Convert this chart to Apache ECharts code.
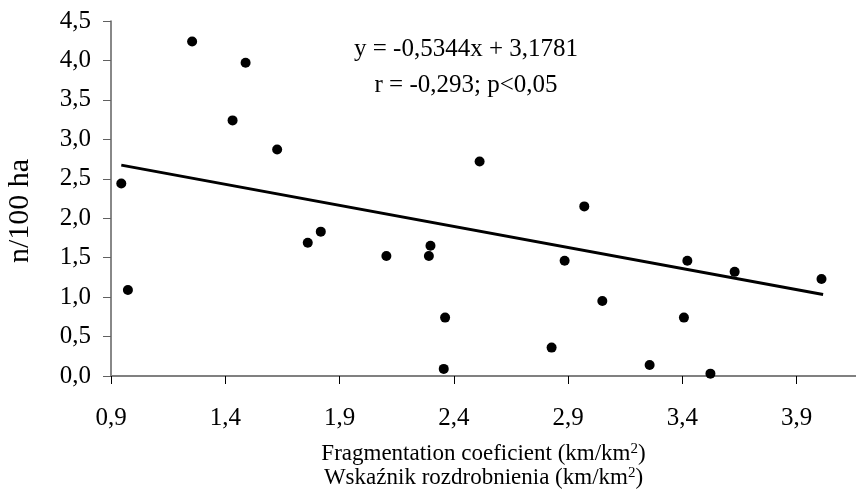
<!DOCTYPE html>
<html>
<head>
<meta charset="utf-8">
<title>Fragmentation vs density</title>
<script src="https://cdn.jsdelivr.net/npm/echarts@6/dist/echarts.min.js"></script>
<style>
  html, body { margin: 0; padding: 0; background: #fff; }
  #chart { width: 856px; height: 495px; }
</style>
</head>
<body>
<div id="chart"></div>
<script>
// values
const xValues = [1.255, 1.489, 1.432, 1.627, 0.945, 0.974, 1.761, 1.818, 2.513, 2.971, 2.105, 2.291,
  2.298, 2.885, 2.362, 2.828, 2.356, 3.422, 3.629, 4.009, 3.050, 3.407, 3.257, 3.523]
const yValues = [4.24, 3.97, 3.24, 2.87, 2.44, 1.09, 1.69, 1.83, 2.72, 2.15, 1.52, 1.52,
  1.65, 1.46, 0.74, 0.36, 0.09, 1.46, 1.32, 1.23, 0.95, 0.74, 0.14, 0.03]
// regression line ends, as drawn
const trendX = [0.945, 4.016]
const trendY = [2.673, 1.032]
const xTicks = [0.9, 1.4, 1.9, 2.4, 2.9, 3.4, 3.9]
const equationLines = ['y = -0,5344x + 3,1781', 'r = -0,293; p<0,05']

const font = '"Liberation Serif", "Times New Roman", serif'
const comma = v => Number(v).toFixed(1).replace('.', ',')

const myChart = echarts.init(document.getElementById('chart'))

const options = {
  backgroundColor: '#fff',
  animation: false,
  grid: { left: 111, top: 21, right: 0, bottom: 119 },
  xAxis: {
    type: 'value',
    min: 0.9,
    max: 4.16,
    splitLine: { show: false },
    axisLine: { show: true, onZero: false, lineStyle: { color: '#808080', width: 2 } },
    axisTick: { show: true, length: 8, customValues: xTicks, lineStyle: { color: '#000' } },
    axisLabel: {
      customValues: xTicks,
      margin: 30,
      color: '#000',
      fontFamily: font,
      fontSize: 25,
      formatter: comma
    },
    name: '{a|Fragmentation coeficient (km/km}{s|2}{a|)}\n{a|Wskaźnik rozdrobnienia (km/km}{s|2}{a|)}',
    nameLocation: 'middle',
    nameGap: 66,
    nameTextStyle: {
      color: '#000',
      rich: {
        a: { fontFamily: font, fontSize: 23, lineHeight: 24, color: '#000' },
        s: { fontFamily: font, fontSize: 15, lineHeight: 15, verticalAlign: 'top', color: '#000' }
      }
    }
  },
  yAxis: {
    type: 'value',
    min: 0,
    max: 4.5,
    interval: 0.5,
    splitLine: { show: false },
    axisLine: { show: true, lineStyle: { color: '#606060', width: 1.5 } },
    axisTick: { show: true, length: 8, lineStyle: { color: '#606060' } },
    axisLabel: {
      margin: 20,
      color: '#000',
      fontFamily: font,
      fontSize: 25,
      formatter: comma
    }
  },
  graphic: [
    {
      type: 'text',
      rotation: Math.PI / 2,
      x: 5,
      y: 263,
      style: {
        text: 'n/100 ha',
        fontFamily: font,
        fontSize: 30,
        fill: '#000'
      }
    },
    {
      type: 'text',
      x: 466,
      y: 49,
      style: {
        text: equationLines[0],
        fontFamily: font,
        fontSize: 25,
        fill: '#000',
        align: 'center',
        verticalAlign: 'middle'
      }
    },
    {
      type: 'text',
      x: 466,
      y: 85,
      style: {
        text: equationLines[1],
        fontFamily: font,
        fontSize: 25,
        fill: '#000',
        align: 'center',
        verticalAlign: 'middle'
      }
    }
  ],
  series: [
    {
      name: 'trend',
      type: 'line',
      data: trendX.map((x, i) => [x, trendY[i]]),
      symbol: 'none',
      silent: true,
      lineStyle: { color: '#000', width: 3 },
      z: 2
    },
    {
      name: 'points',
      type: 'scatter',
      data: xValues.map((x, i) => [x, yValues[i]]),
      symbol: 'circle',
      symbolSize: 10,
      itemStyle: { color: '#000', opacity: 1 },
      z: 3
    }
  ]
}

myChart.setOption(options)
</script>
</body>
</html>
